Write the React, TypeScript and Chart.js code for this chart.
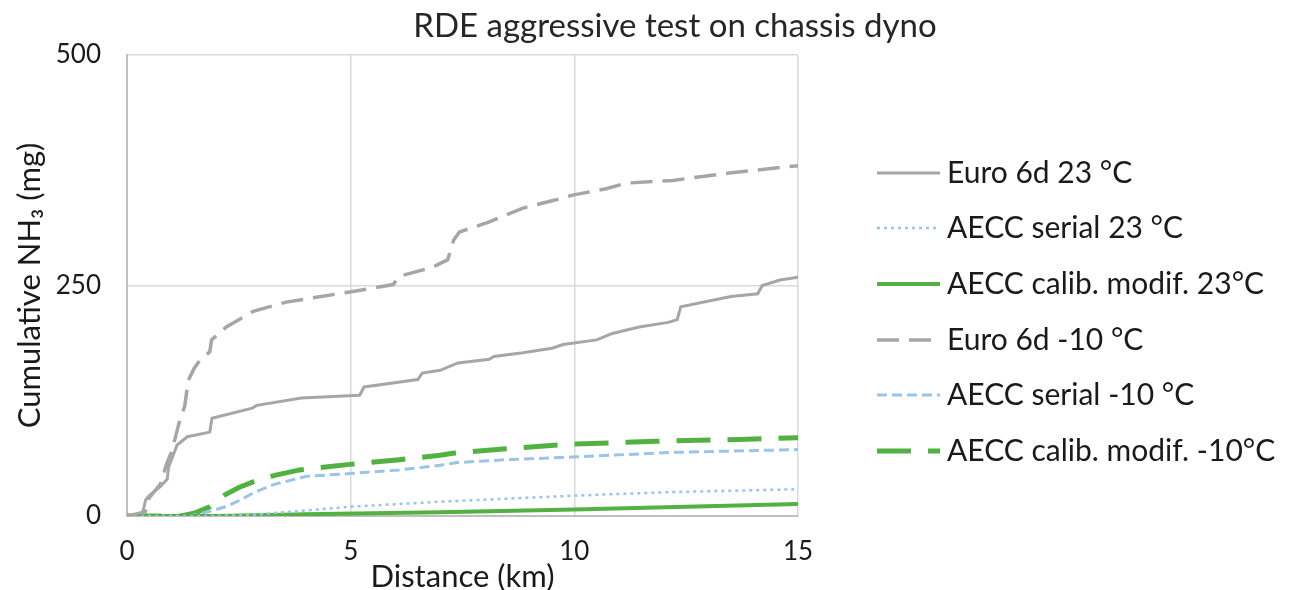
import React, { useEffect, useRef } from "react";
import { Chart, registerables } from "chart.js";

Chart.register(...registerables);

const TITLE = "RDE aggressive test on chassis dyno";
const X_TITLE = "Distance (km)";
const Y_TITLE = "Cumulative NH₃ (mg)";

const X_TICKS = [0, 5, 10, 15];
const Y_TICKS = [0, 250, 500];

const SERIES_NAMES = [
  "Euro 6d 23 °C",
  "AECC serial 23 °C",
  "AECC calib. modif. 23°C",
  "Euro 6d -10 °C",
  "AECC serial -10 °C",
  "AECC calib. modif. -10°C",
];

// Euro 6d 23 °C
const euro23X = [0, 0.35, 0.42, 0.5, 0.75, 0.9, 0.93, 1.05, 1.12, 1.35, 1.85, 1.9, 2.8, 2.9, 3.9, 5.2, 5.3, 6.5, 6.6, 7.0, 7.4, 8.1, 8.2, 8.85, 9.5, 9.75, 10.5, 10.85, 11.45, 12.1, 12.3, 12.38, 13.5, 14.1, 14.2, 14.6, 15];
const euro23Y = [0, 4, 18, 22, 32, 40, 53, 68, 77, 86, 91, 106, 117, 120, 128, 131, 140, 148, 155, 158, 166, 170, 173, 177, 182, 186, 191, 198, 205, 210, 213, 227, 238, 241, 250, 256, 259];

// AECC serial 23 °C
const serial23X = [0, 2.0, 2.75, 4.0, 4.98, 7.0, 9.96, 12.2, 15];
const serial23Y = [0, 0, 1, 6, 10, 15.5, 22, 26, 29];

// AECC calib. modif. 23°C
const calib23X = [0, 2, 4, 7, 10, 12.5, 15];
const calib23Y = [0, 0, 2, 4, 7, 10, 13];

// Euro 6d -10 °C
const euroM10X = [0, 0.4, 0.5, 0.75, 0.89, 1.0, 1.18, 1.29, 1.37, 1.5, 1.63, 1.85, 1.89, 2.22, 2.82, 3.56, 4.98, 5.95, 6.09, 6.84, 7.17, 7.3, 7.43, 8.1, 8.85, 9.59, 9.96, 10.71, 11.15, 12.2, 13.46, 14.8, 15];
const euroM10Y = [0, 3, 20, 35, 57, 70, 104, 119, 147, 160, 169, 178, 191, 205, 222, 232, 243, 251, 260, 270, 278, 299, 308, 319, 334, 343, 348, 355, 361, 364, 372, 379, 380];

// AECC serial -10 °C
const serialM10X = [0, 1.4, 1.85, 2.2, 2.52, 2.82, 3.27, 4.01, 4.98, 6.09, 7.0, 7.39, 8.47, 9.96, 12.2, 15];
const serialM10Y = [0, 0, 5, 10, 17, 25, 34, 43, 46, 50, 55, 58, 61, 64, 69, 72];

// AECC calib. modif. -10°C
const calibM10X = [0, 1.2, 1.5, 1.85, 2.19, 2.5, 2.82, 3.3, 3.86, 4.98, 6.09, 7.0, 7.28, 8.47, 9.96, 11.82, 13.68, 15];
const calibM10Y = [0, 0, 3, 10, 23, 31, 37, 44, 50, 56, 61, 66, 68, 73, 78, 81, 83, 85];

const GRAY = "#a6a6a6";
const BLUE = "#9dc3e6";
const GREEN = "#52b142";
const FONT = "Lato, 'Open Sans', sans-serif";

const toPts = (xs: number[], ys: number[]) => xs.map((x, i) => ({ x, y: ys[i] }));

const overlayPlugin = {
  id: "overlay",
  afterDraw(chart: any) {
    const ctx = chart.ctx;
    ctx.save();
    ctx.fillStyle = "#262626";
    ctx.font = `33px ${FONT}`;
    ctx.textAlign = "center";
    ctx.textBaseline = "middle";
    ctx.fillText(TITLE, 675, 26);

    const rows = [173, 228, 284, 340, 395, 451];
    chart.data.datasets.forEach((ds: any, i: number) => {
      const y = rows[i];
      ctx.save();
      ctx.strokeStyle = ds.borderColor;
      ctx.lineWidth = ds.borderWidth;
      ctx.setLineDash(ds.borderDash || []);
      ctx.beginPath();
      ctx.moveTo(877, y);
      ctx.lineTo(940, y);
      ctx.stroke();
      ctx.restore();
      ctx.fillStyle = "#1a1a1a";
      ctx.font = `30px ${FONT}`;
      ctx.textAlign = "left";
      ctx.textBaseline = "middle";
      ctx.fillText(ds.label, 947, y);
    });
    ctx.restore();
  },
};

export default function App() {
  const ref = useRef<HTMLCanvasElement>(null);
  useEffect(() => {
    if (!ref.current) return;
    const chart = new Chart(ref.current, {
      type: "line",
      data: {
        datasets: [
          { label: SERIES_NAMES[0], data: toPts(euro23X, euro23Y), borderColor: GRAY, borderWidth: 3, borderDash: [] },
          { label: SERIES_NAMES[1], data: toPts(serial23X, serial23Y), borderColor: BLUE, borderWidth: 2.5, borderDash: [3, 4] },
          { label: SERIES_NAMES[2], data: toPts(calib23X, calib23Y), borderColor: GREEN, borderWidth: 4, borderDash: [] },
          { label: SERIES_NAMES[3], data: toPts(euroM10X, euroM10Y), borderColor: GRAY, borderWidth: 3.5, borderDash: [22, 10] },
          { label: SERIES_NAMES[4], data: toPts(serialM10X, serialM10Y), borderColor: BLUE, borderWidth: 3, borderDash: [10, 5] },
          { label: SERIES_NAMES[5], data: toPts(calibM10X, calibM10Y), borderColor: GREEN, borderWidth: 5, borderDash: [34, 17] },
        ].map((d) => ({ ...d, pointRadius: 0, fill: false, tension: 0, backgroundColor: d.borderColor })) as any,
      },
      options: {
        animation: false,
        responsive: true,
        maintainAspectRatio: false,
        devicePixelRatio: 1,
        layout: { padding: { top: 55, right: 503, bottom: 0, left: 0 } },
        plugins: { legend: { display: false }, title: { display: false }, tooltip: { enabled: false } },
        scales: {
          x: {
            type: "linear",
            min: 0,
            max: 15,
            afterFit: (s: any) => { s.height = 74; },
            afterBuildTicks: (s: any) => { s.ticks = X_TICKS.map((v) => ({ value: v })); },
            ticks: { font: { family: FONT, size: 26 }, color: "#1a1a1a", padding: 20 },
            grid: { color: "#d9d9d9", lineWidth: 1.5, drawTicks: false },
            border: { color: "#bfbfbf", width: 2 },
            title: { display: true, text: X_TITLE, font: { family: FONT, size: 31, lineHeight: 1 }, color: "#1a1a1a", padding: { top: 0, bottom: -2 } },
          },
          y: {
            type: "linear",
            min: 0,
            max: 500,
            afterFit: (s: any) => { s.width = 127; },
            afterBuildTicks: (s: any) => { s.ticks = Y_TICKS.map((v) => ({ value: v })); },
            ticks: { font: { family: FONT, size: 26 }, color: "#1a1a1a", padding: 26 },
            grid: { color: "#d9d9d9", lineWidth: 1.5, drawTicks: false },
            border: { color: "#bfbfbf", width: 2 },
            title: { display: true, text: Y_TITLE, font: { family: FONT, size: 31, lineHeight: 1 }, color: "#1a1a1a", padding: { top: 14, bottom: 0 } },
          },
        },
      },
      plugins: [overlayPlugin],
    } as any);
    return () => chart.destroy();
  }, []);
  return (
    <div style={{ position: "fixed", left: 0, top: 0, width: 1301, height: 590, background: "#fff" }}>
      <canvas ref={ref} />
    </div>
  );
}
